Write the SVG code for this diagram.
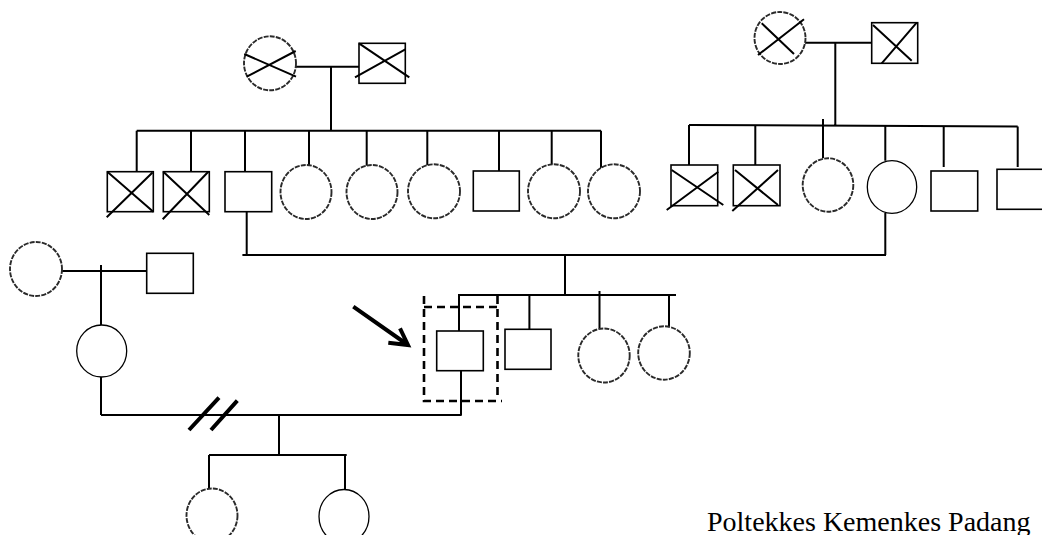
<svg xmlns="http://www.w3.org/2000/svg" width="1042" height="535" viewBox="0 0 1042 535">
<style>
.ln{stroke:#000;stroke-width:2;fill:none}
.sq{stroke:#000;stroke-width:1.6;fill:#fff}
.dc{stroke:#2a2a2a;stroke-width:1.9;fill:#fff;stroke-dasharray:5 1.2}
.sc{stroke:#000;stroke-width:1.3;fill:#fff}
.x{stroke:#000;stroke-width:2}
.box{stroke:#000;stroke-width:2.6;fill:none;stroke-dasharray:8 5}
.arr{stroke:#000;stroke-width:4;fill:none;stroke-linecap:butt}
.t{font-family:"Liberation Serif","Times New Roman",serif;font-size:28px;fill:#000}
</style>
<rect width="1042" height="535" fill="#fff"/>
<g id="connectors">
<path class="ln" d="M296,66.7H359 M331,66.7V130.7 M136.7,130.7H601"/>
<path class="ln" d="M136.7,130.7V171.7 M191,130.7V171.7 M245,130.7V171.7 M309,130.7V165 M366.7,130.7V171.7 M427.3,130.7V171.7 M499,130.7V171.7 M551.7,130.7V171.7 M601,130.7V171.7"/>
<path class="ln" d="M805,42.7H871.7 M835.3,42.7V125 M689,125L1017.7,126.5"/>
<path class="ln" d="M689,125V165 M755.3,125V165 M823,119V158.3 M885.3,125V160.7 M943.7,126V167 M1017.7,126.5V167"/>
<path class="ln" d="M246.7,211.7V255 M885.3,213V255 M242.4,255H886 M565,255V295 M458,295H676"/>
<path class="ln" d="M459,295V331 M529.4,295V329.3 M599.5,291V328.5 M669,295V336"/>
<path class="ln" d="M461,370.7V415 M101,415H461.7"/>
<path class="x" d="M189,430L219,397.7 M211,430L237.3,400.7" style="stroke-width:4"/>
<path class="ln" d="M279,415V455 M209,455H346.7 M209,455V489 M345,455V489.5"/>
<path class="ln" d="M61.7,271H146.7 M101,265V325 M101,377V415"/>
</g>
<g id="gm1">
<ellipse class="dc" cx="270" cy="63.3" rx="26" ry="27"/>
<path class="x" d="M244.3,54L296,76.7 M246.7,76.7L295.7,51"/>
</g>
<g id="gf1">
<rect class="sq" x="359" y="43.3" width="46.3" height="40"/>
<path class="x" d="M359,43.3L409.3,77.3 M355,77.3L405.3,49.3"/>
</g>
<g id="c1">
<rect class="sq" x="107.3" y="171.7" width="46" height="40"/>
<path class="x" d="M107.3,171.7L153.3,211.7 M106.7,217.3L152.5,172.5"/>
</g>
<g id="c2">
<rect class="sq" x="163.3" y="171.7" width="46" height="40"/>
<path class="x" d="M163.3,171.7L209.3,215 M162.7,219.3L208.3,171.7"/>
</g>
<g id="father"><rect class="sq" x="225" y="171.7" width="46.7" height="40"/></g>
<g id="c4"><ellipse class="dc" cx="306" cy="192" rx="25.5" ry="27"/></g>
<g id="c5"><ellipse class="dc" cx="372" cy="192" rx="25.5" ry="27"/></g>
<g id="c6"><ellipse class="dc" cx="434" cy="191.3" rx="26" ry="27"/></g>
<g id="c7"><rect class="sq" x="473.3" y="171" width="46" height="40"/></g>
<g id="c8"><ellipse class="dc" cx="554" cy="191.3" rx="26" ry="27"/></g>
<g id="c9"><ellipse class="dc" cx="614" cy="191.3" rx="26" ry="27"/></g>
<g id="gm2">
<ellipse class="dc" cx="780" cy="38" rx="25.5" ry="26"/>
<path class="x" d="M761.7,23.3L794,54 M758,55L804,19.3"/>
</g>
<g id="gf2">
<rect class="sq" x="871.7" y="22.7" width="46" height="40.6"/>
<path class="x" d="M873,25L911.7,60.7 M881.7,63.3L916.7,22.7"/>
</g>
<g id="r1">
<rect class="sq" x="671" y="165" width="46.7" height="40.7"/>
<path class="x" d="M671.7,170L723.3,205 M666.7,210L718.3,171.7"/>
</g>
<g id="r2">
<rect class="sq" x="733.3" y="165" width="46.7" height="40.7"/>
<path class="x" d="M735,170L778,205 M732.3,211L778,170"/>
</g>
<g id="r3"><ellipse class="dc" cx="828" cy="185" rx="25.3" ry="26.7"/></g>
<g id="mother"><ellipse class="sc" cx="892" cy="187" rx="24.7" ry="26.3"/></g>
<g id="r5"><rect class="sq" x="931" y="171" width="46.7" height="40"/></g>
<g id="r6"><rect class="sq" x="997" y="169.3" width="47" height="40"/></g>
<g id="proband"><rect class="sq" x="436.7" y="331" width="46.6" height="39.7"/></g>
<g id="proband-box"><path class="box" d="M424,296V401H502 M497.5,296V400 M424,307H497"/></g>
<g id="arrow"><path class="arr" d="M353.3,306.7L408,345 M388.3,342.7L408,345L400,328.3"/></g>
<g id="brother"><rect class="sq" x="505" y="329.3" width="46" height="40"/></g>
<g id="sister1"><ellipse class="dc" cx="604" cy="355.5" rx="25.7" ry="27"/></g>
<g id="sister2"><ellipse class="dc" cx="664" cy="353" rx="25.8" ry="26.7"/></g>
<g id="wife-mother"><ellipse class="dc" cx="36" cy="269" rx="26" ry="27"/></g>
<g id="wife-father"><rect class="sq" x="146.7" y="253.3" width="46.6" height="40"/></g>
<g id="wife"><ellipse class="sc" cx="101.7" cy="351" rx="25" ry="26"/></g>
<g id="daughter1"><ellipse class="dc" cx="212" cy="515.5" rx="25.5" ry="27"/></g>
<g id="daughter2"><ellipse class="sc" cx="344" cy="516.5" rx="25" ry="27"/></g>
<g id="caption"><text class="t" x="707" y="531">Poltekkes Kemenkes Padang</text></g>
</svg>
